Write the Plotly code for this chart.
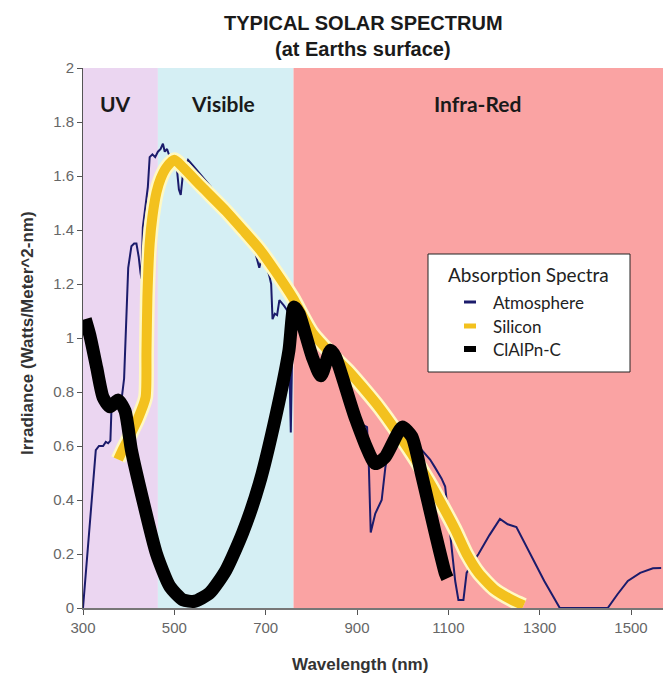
import plotly.graph_objects as go

# ---------------- data ----------------
atm_nm = [300, 305, 312, 318, 322, 328, 335, 344, 350, 355, 360, 363, 372, 385, 390, 395, 399, 406,
          412, 417, 422, 426, 428, 431, 437, 442, 446, 452, 458, 464, 470, 475, 479, 484, 490, 500,
          506, 510, 514, 519, 525, 530, 540, 560, 580, 600, 620, 640, 660, 675, 686, 692, 700, 708,
          712, 715, 720, 725, 730, 740, 748, 752, 755, 758, 762, 770, 790, 810, 830, 850, 870, 886,
          900, 911, 922, 926, 930, 935, 940, 954, 962, 970, 990, 1010, 1030, 1042, 1060, 1071, 1085,
          1093, 1100, 1108, 1115, 1122, 1133, 1140, 1150, 1166, 1190, 1213, 1230, 1249, 1280, 1310,
          1344, 1449, 1470, 1493, 1520, 1548, 1566]
atm_val = [0.0, 0.10, 0.25, 0.38, 0.45, 0.585, 0.60, 0.60, 0.615, 0.61, 0.62, 0.77, 0.78, 0.78, 0.85,
           1.10, 1.26, 1.34, 1.35, 1.35, 1.30, 1.24, 1.22, 1.41, 1.50, 1.56, 1.67, 1.68, 1.67, 1.69,
           1.70, 1.72, 1.69, 1.70, 1.67, 1.66, 1.62, 1.55, 1.53, 1.61, 1.64, 1.66, 1.64, 1.60, 1.56,
           1.50, 1.45, 1.41, 1.36, 1.33, 1.26, 1.30, 1.28, 1.23, 1.20, 1.07, 1.09, 1.085, 1.14, 1.12,
           1.10, 0.90, 0.65, 0.95, 1.12, 1.09, 1.04, 1.00, 0.96, 0.91, 0.86, 0.81, 0.74, 0.68, 0.67,
           0.52, 0.28, 0.32, 0.35, 0.40, 0.52, 0.60, 0.64, 0.64, 0.61, 0.585, 0.55, 0.52, 0.48, 0.45,
           0.33, 0.20, 0.10, 0.03, 0.03, 0.13, 0.16, 0.20, 0.27, 0.33, 0.31, 0.30, 0.20, 0.10, 0.0,
           0.0, 0.05, 0.10, 0.13, 0.147, 0.148]

si_nm = [377, 388, 400, 420, 437, 439, 441, 446, 452, 461, 470, 482, 500, 520, 560, 613, 650, 686,
         720, 759, 802, 850, 880, 911, 950, 984, 1020, 1057, 1090, 1115, 1140, 1166, 1200, 1239, 1265]
si_val = [0.55, 0.59, 0.63, 0.70, 0.78, 0.95, 1.15, 1.35, 1.45, 1.54, 1.59, 1.63, 1.66, 1.63, 1.56,
          1.47, 1.40, 1.33, 1.25, 1.15, 1.02, 0.93, 0.88, 0.82, 0.74, 0.66, 0.57, 0.47, 0.37, 0.29,
          0.20, 0.13, 0.07, 0.03, 0.01]

cl_nm = [305, 315, 330, 344, 359, 377, 392, 406, 431, 461, 490, 519, 544, 577, 613, 650, 686, 722,
         751, 762, 773, 802, 821, 842, 853, 897, 940, 962, 999, 1020, 1042, 1071, 1093, 1098]
cl_val = [1.07, 1.01, 0.89, 0.78, 0.745, 0.77, 0.73, 0.585, 0.40, 0.20, 0.08, 0.03, 0.025, 0.055,
          0.14, 0.28, 0.46, 0.71, 0.955, 1.115, 1.09, 0.93, 0.86, 0.955, 0.93, 0.70, 0.535, 0.56,
          0.67, 0.635, 0.49, 0.28, 0.13, 0.11]

bands = [("UV", 300, 464, "#EBD6F1", 372),
         ("Visible", 464, 761, "#D5EFF4", 606),
         ("Infra-Red", 761, 1570, "#FAA3A3", 1164)]

series_names = ["Atmosphere", "Silicon", "ClAlPn-C"]
series_colors = ["#1B1B6B", "#F3C11E", "#000000"]

x_ticks = [300, 500, 700, 900, 1100, 1300, 1500]
y_ticks = [0, 0.2, 0.4, 0.6, 0.8, 1, 1.2, 1.4, 1.6, 1.8, 2]
y_tick_text = ["0", "0.2", "0.4", "0.6", "0.8", "1", "1.2", "1.4", "1.6", "1.8", "2"]

# ---------------- figure ----------------
fig = go.Figure()

fig.add_trace(go.Scatter(x=atm_nm, y=atm_val, mode="lines", name=series_names[0],
                         line=dict(color=series_colors[0], width=2), showlegend=False))
fig.add_trace(go.Scatter(x=si_nm, y=si_val, mode="lines", name="outline",
                         line=dict(color="#FFF9C4", width=15, shape="spline", smoothing=0.6),
                         showlegend=False, hoverinfo="skip"))
fig.add_trace(go.Scatter(x=si_nm, y=si_val, mode="lines", name=series_names[1],
                         line=dict(color=series_colors[1], width=10, shape="spline", smoothing=0.6),
                         showlegend=False))
fig.add_trace(go.Scatter(x=cl_nm, y=cl_val, mode="lines", name=series_names[2],
                         line=dict(color=series_colors[2], width=13, shape="spline", smoothing=0.6),
                         showlegend=False))

shapes = []
annotations = []
for label, x0, x1, col, xc in bands:
    shapes.append(dict(type="rect", xref="x", yref="y", x0=x0, x1=x1, y0=0, y1=2,
                       fillcolor=col, line=dict(width=0), layer="below"))
    annotations.append(dict(text=label, x=xc, y=0.935, xref="x", yref="paper", showarrow=False,
                            xanchor="center", yanchor="middle",
                            font=dict(family="Lato", size=21, color="#1a1a1a", weight="bold")))

# custom legend (positions given in page pixels of the target picture)
PW, PH = 580.0, 540.0
def px(xp):
    return (xp - 83) / PW
def py(yp):
    return (608 - yp) / PH

shapes.append(dict(type="rect", xref="paper", yref="paper", x0=px(428), x1=px(630),
                   y0=py(372), y1=py(254), fillcolor="white", line=dict(color="#222222", width=1)))
annotations.append(dict(text="Absorption Spectra", x=px(528), y=py(274), xref="paper", yref="paper",
                        xanchor="center", yanchor="middle", showarrow=False,
                        font=dict(family="Lato", size=19, color="#222222")))
item_y = [302, 326, 349]
item_w = [3, 5, 6]
for name, col, yy, w in zip(series_names, series_colors, item_y, item_w):
    shapes.append(dict(type="line", xref="paper", yref="paper", x0=px(464), x1=px(476),
                       y0=py(yy), y1=py(yy), line=dict(color=col, width=w)))
    annotations.append(dict(text=name, x=px(491), y=py(yy), xref="paper", yref="paper",
                            xanchor="left", yanchor="middle", showarrow=False,
                            font=dict(family="Lato", size=17, color="#222222")))

# titles
def centered(text, x, y, size, color, angle=0):
    return dict(text=text, x=x, y=y, xref="paper", yref="paper", showarrow=False,
                xanchor="center", yanchor="middle", textangle=angle,
                font=dict(family="Liberation Sans", size=size, color=color))

annotations.append(centered("<b>TYPICAL SOLAR SPECTRUM</b>", px(363), py(23), 20, "#1a1a1a"))
annotations.append(centered("<b>(at Earths surface)</b>", px(363), py(49), 20, "#1a1a1a"))
annotations.append(centered("<b>Wavelength (nm)</b>", px(360), py(664), 17, "#333333"))
annotations.append(centered("<b>Irradiance (Watts/Meter^2-nm)</b>", px(27), py(333), 17,
                            "#333333", angle=-90))

# page has an 8px body margin: shrink the figure so the plot lands where the target has it
fig.update_layout(
    width=664, height=673,
    margin=dict(l=75, r=9, t=60, b=73),
    paper_bgcolor="white", plot_bgcolor="white",
    shapes=shapes, annotations=annotations, showlegend=False,
)
fig.update_xaxes(range=[300, 1570], tickvals=x_ticks, ticktext=[str(v) for v in x_ticks],
                 showgrid=False, zeroline=False, showline=True, linecolor="#777777", linewidth=2,
                 ticks="outside", ticklen=5, tickcolor="#555555",
                 tickfont=dict(family="Liberation Sans", size=15, color="#666666"))
fig.update_yaxes(range=[0, 2], tickvals=y_ticks, ticktext=y_tick_text,
                 showgrid=False, zeroline=False, showline=True, linecolor="#555555", linewidth=1,
                 ticks="outside", ticklen=5, tickcolor="#555555",
                 tickfont=dict(family="Liberation Sans", size=15, color="#666666"))

fig.write_html("out.html")
